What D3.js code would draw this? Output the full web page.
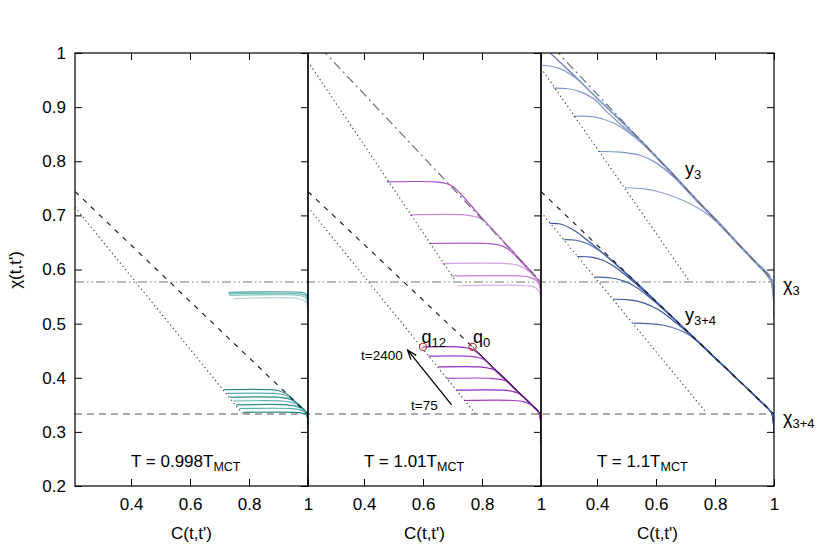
<!DOCTYPE html>
<html><head><meta charset="utf-8">
<script src="https://cdn.jsdelivr.net/npm/d3@7"></script>
<style>body{margin:0;background:#fff}svg{display:block}text{font-family:"Liberation Sans",Arial,Helvetica,sans-serif}</style>
</head><body><svg id="c" width="830" height="554"></svg>
<script>
// ---------- data ----------
const yTicks = [0.2,0.3,0.4,0.5,0.6,0.7,0.8,0.9,1];
const xTicks = [0.4,0.6,0.8,1];
const panelTitles = [["T = 0.998T","MCT"],["T = 1.01T","MCT"],["T = 1.1T","MCT"]];
const chi3 = 0.577, chi34 = 0.333;

// reference straight lines [C, chi]
const leftDashed = [[0.21,0.744],[1,0.333]];
const leftDotted = [[0.21,0.715],[0.777,0.334]];
const midDashDot = [[0.21,1.034],[1,0.577]];
const midDottedU = [[0.21,0.984],[0.705,0.583]];
const midDashed  = [[0.21,0.744],[0.768,0.457]];
const midSolid   = [[0.768,0.457],[1,0.333]];
const midDottedL = [[0.21,0.715],[0.777,0.334]];
const rightDashDot = [[0.21,1.034],[1,0.577]];
const rightDottedU = [[0.21,0.972],[0.71,0.581]];
const rightDashed  = [[0.21,0.744],[1,0.333]];
const rightDottedL = [[0.21,0.706],[0.768,0.337]];
const qPoints = [[0.600,0.457],[0.768,0.457]];
const arrowPts = [[0.697,0.350],[0.548,0.451]];

// curves, T = 0.998 T_MCT
const leftUpper = [
 [[0.730,0.558],[0.97,0.558],[0.99,0.556],[0.998,0.550],[1,0.540]],
 [[0.730,0.555],[0.97,0.555],[0.99,0.552],[0.998,0.545],[1,0.535]],
 [[0.733,0.552],[0.97,0.552],[0.99,0.548],[0.998,0.540],[1,0.530]],
 [[0.748,0.546],[0.97,0.546],[0.99,0.541],[0.998,0.533],[1,0.520]]
];
const leftLower = [
 [[0.716,0.378],[0.87,0.378],[0.90,0.376],[0.93,0.369],[0.96,0.354],[0.99,0.339],[0.999,0.325],[1,0.2]],
 [[0.726,0.371],[0.89,0.371],[0.915,0.369],[0.94,0.363],[0.97,0.349],[0.99,0.339],[0.999,0.325],[1,0.2]],
 [[0.736,0.364],[0.90,0.364],[0.93,0.362],[0.955,0.356],[0.975,0.346],[0.99,0.339],[0.999,0.325],[1,0.2]],
 [[0.746,0.357],[0.915,0.357],[0.94,0.355],[0.965,0.350],[0.985,0.341],[0.996,0.333],[1,0.2]],
 [[0.756,0.350],[0.93,0.350],[0.955,0.348],[0.975,0.344],[0.99,0.338],[0.998,0.330],[1,0.2]],
 [[0.767,0.343],[0.945,0.343],[0.97,0.341],[0.988,0.337],[0.998,0.330],[1,0.2]],
 [[0.780,0.336],[0.96,0.336],[0.985,0.334],[0.997,0.330],[1,0.2]]
];
// curves, T = 1.01 T_MCT
const midUpper = [
 [[0.477,0.762],[0.64,0.762],[0.67,0.760],[0.70,0.754],[0.80,0.695],[0.90,0.636],[0.95,0.606],[0.98,0.588],[0.995,0.575],[1,0.550]],
 [[0.556,0.701],[0.74,0.701],[0.775,0.698],[0.80,0.693],[0.90,0.635],[0.95,0.605],[0.98,0.587],[0.995,0.574],[1,0.548]],
 [[0.621,0.648],[0.82,0.648],[0.86,0.645],[0.89,0.637],[0.95,0.604],[0.98,0.586],[0.995,0.573],[1,0.546]],
 [[0.663,0.611],[0.88,0.611],[0.92,0.608],[0.95,0.600],[0.98,0.585],[0.995,0.572],[1,0.545]],
 [[0.695,0.588],[0.93,0.588],[0.96,0.586],[0.985,0.579],[0.997,0.568],[1,0.543]],
 [[0.716,0.570],[0.95,0.570],[0.98,0.567],[0.995,0.558],[1,0.540]]
];
const midLower = [
 [[0.600,0.457],[0.72,0.457],[0.75,0.455],[0.775,0.450],[0.85,0.411],[0.92,0.375],[0.97,0.349],[0.99,0.338],[0.998,0.325],[1,0.28]],
 [[0.618,0.440],[0.75,0.440],[0.78,0.438],[0.805,0.434],[0.85,0.411],[0.92,0.375],[0.97,0.349],[0.99,0.338],[0.998,0.325],[1,0.28]],
 [[0.652,0.420],[0.79,0.420],[0.82,0.418],[0.845,0.414],[0.92,0.375],[0.97,0.349],[0.99,0.338],[0.998,0.325],[1,0.28]],
 [[0.680,0.399],[0.83,0.399],[0.86,0.397],[0.885,0.393],[0.92,0.375],[0.97,0.349],[0.99,0.338],[0.998,0.325],[1,0.28]],
 [[0.714,0.377],[0.87,0.377],[0.90,0.375],[0.925,0.371],[0.97,0.349],[0.99,0.338],[0.998,0.325],[1,0.28]],
 [[0.739,0.358],[0.91,0.358],[0.94,0.356],[0.96,0.352],[0.98,0.343],[0.99,0.338],[0.998,0.325],[1,0.28]]
];
// curves, T = 1.1 T_MCT
const rightUpper = [
 [[0.235,1.003],[0.30,0.970],[0.40,0.917],[0.546,0.840],[0.65,0.781],[0.738,0.729],[0.806,0.691],[0.90,0.636],[0.95,0.608],[0.97,0.598],[0.985,0.589],[0.996,0.560],[1,0.510]],
 [[0.21,0.977],[0.24,0.976],[0.27,0.972],[0.32,0.957],[0.40,0.916],[0.546,0.839],[0.65,0.780],[0.738,0.728],[0.806,0.690],[0.90,0.635],[0.95,0.607],[0.97,0.597],[0.985,0.587],[0.996,0.562],[1,0.520]],
 [[0.252,0.935],[0.30,0.934],[0.34,0.929],[0.39,0.915],[0.43,0.893],[0.48,0.868],[0.546,0.837],[0.65,0.779],[0.738,0.727],[0.806,0.689],[0.90,0.634],[0.95,0.606],[0.97,0.596],[0.985,0.585],[0.996,0.565],[1,0.530]],
 [[0.320,0.883],[0.39,0.882],[0.45,0.872],[0.50,0.856],[0.55,0.834],[0.60,0.808],[0.65,0.779],[0.738,0.727],[0.806,0.689],[0.90,0.634],[0.95,0.606],[0.97,0.596],[0.985,0.584],[0.996,0.568],[1,0.540]],
 [[0.404,0.818],[0.48,0.817],[0.546,0.811],[0.60,0.797],[0.66,0.771],[0.72,0.737],[0.806,0.689],[0.90,0.634],[0.95,0.606],[0.97,0.595],[0.985,0.583],[0.996,0.571],[1,0.552]],
 [[0.495,0.751],[0.56,0.749],[0.60,0.745],[0.69,0.728],[0.77,0.704],[0.82,0.680],[0.90,0.634],[0.95,0.605],[0.97,0.594],[0.985,0.582],[0.996,0.574],[1,0.565]]
];
const rightLower = [
 [[0.240,0.685],[0.275,0.684],[0.32,0.673],[0.365,0.655],[0.433,0.624],[0.523,0.581],[0.60,0.541],[0.70,0.489],[0.80,0.437],[0.90,0.385],[0.95,0.359],[0.98,0.343],[0.993,0.334],[1,0.30]],
 [[0.286,0.655],[0.33,0.654],[0.37,0.647],[0.41,0.634],[0.46,0.612],[0.523,0.580],[0.60,0.541],[0.70,0.489],[0.80,0.437],[0.90,0.385],[0.95,0.359],[0.98,0.343],[0.993,0.334],[1,0.30]],
 [[0.333,0.624],[0.38,0.623],[0.42,0.617],[0.46,0.605],[0.50,0.588],[0.55,0.565],[0.60,0.540],[0.70,0.489],[0.80,0.437],[0.90,0.385],[0.95,0.359],[0.98,0.343],[0.993,0.334],[1,0.30]],
 [[0.393,0.586],[0.44,0.585],[0.49,0.579],[0.53,0.568],[0.57,0.552],[0.62,0.529],[0.70,0.489],[0.80,0.437],[0.90,0.385],[0.95,0.359],[0.98,0.343],[0.993,0.334],[1,0.30]],
 [[0.455,0.545],[0.51,0.544],[0.56,0.538],[0.61,0.525],[0.66,0.505],[0.70,0.487],[0.80,0.436],[0.90,0.385],[0.95,0.359],[0.98,0.343],[0.993,0.334],[1,0.30]],
 [[0.523,0.501],[0.625,0.497],[0.704,0.482],[0.749,0.464],[0.80,0.437],[0.90,0.385],[0.95,0.359],[0.98,0.343],[0.993,0.334],[1,0.30]]
];

const leftUpperColors  = ["#3f9e9e","#6fb8b8","#8cc8c8","#a9d6d6"];
const leftLowerColors  = ["#2e8e8e","#5aaeae","#2a8888","#62b2b2","#2e8e8e","#5aaeae","#2a8888"];
const midUpperColors   = ["#a848cc","#c98ade","#b35ad2","#d4a0e4","#c07ad8","#dab0e8"];
const midLowerColors   = ["#9428c0","#a23cc8","#9428c0","#a23cc8","#9428c0","#a23cc8"];
const rightUpperColors = ["#5c72b2","#8c9ed0","#7f93c8","#8c9ed0","#7f93c8","#8c9ed0"];
const rightLowerColors = ["#3a56a0","#4a64aa","#3a56a0","#4a64aa","#3a56a0","#4a64aa"];

// ---------- drawing ----------
const svg = d3.select("#c");
const W = 233, x0s = [75,308,541], yTop = 53, yBot = 486;
const FONT = "\"Liberation Sans\",Arial,Helvetica,sans-serif";
const y = d3.scaleLinear().domain([0.2,1]).range([yBot,yTop]);
const xs = x0s.map(a => d3.scaleLinear().domain([0.21,1]).range([a,a+W]));

const defs = svg.append("defs");
x0s.forEach((a,i)=>defs.append("clipPath").attr("id","cp"+i).append("rect")
  .attr("x",a).attr("y",yTop).attr("width",W).attr("height",yBot-yTop));

const fullX = d3.scaleLinear().domain([0,1]).range([x0s[0], x0s[2]+W]);
svg.append("line").attr("x1",fullX(0)).attr("x2",fullX(1)).attr("y1",y(chi3)).attr("y2",y(chi3))
  .attr("stroke","#777").attr("stroke-width",1.1).attr("stroke-dasharray","9,3,1.5,3,1.5,3");
svg.append("line").attr("x1",fullX(0)).attr("x2",fullX(1)).attr("y1",y(chi34)).attr("y2",y(chi34))
  .attr("stroke","#555").attr("stroke-width",1.1).attr("stroke-dasharray","7,5");

const styles = {
  dashed:{stroke:"#111",dash:"5,6",w:1.1},
  dotted:{stroke:"#333",dash:"1.2,3",w:1.1},
  dashdot:{stroke:"#666",dash:"9,4,2,4",w:1.1},
  solid:{stroke:"#111",dash:null,w:0.9}
};
const panels = [
  {curves:[[leftUpper,leftUpperColors],[leftLower,leftLowerColors]], lines:[[leftDashed,"dashed"],[leftDotted,"dotted"]]},
  {curves:[[midUpper,midUpperColors],[midLower,midLowerColors]], lines:[[midDashDot,"dashdot"],[midDottedU,"dotted"],[midDashed,"dashed"],[midSolid,"solid"],[midDottedL,"dotted"]]},
  {curves:[[rightUpper,rightUpperColors],[rightLower,rightLowerColors]], lines:[[rightDashDot,"dashdot"],[rightDottedU,"dotted"],[rightDashed,"dashed"],[rightDottedL,"dotted"]]}
];

panels.forEach((p,i)=>{
  const x = xs[i];
  const g = svg.append("g").attr("clip-path",`url(#cp${i})`);
  const line = d3.line().x(d=>x(d[0])).y(d=>y(d[1])).curve(d3.curveCatmullRom.alpha(0.5));
  p.curves.forEach(([set,cols])=>{
    set.forEach((c,k)=>g.append("path").attr("d",line(c)).attr("fill","none")
      .attr("stroke",cols[k%cols.length]).attr("stroke-width",1.2));
  });
  const sl = d3.line().x(d=>x(d[0])).y(d=>y(d[1]));
  p.lines.forEach(([pts,st])=>{
    const s = styles[st];
    const path = g.append("path").attr("d",sl(pts)).attr("fill","none").attr("stroke",s.stroke).attr("stroke-width",s.w);
    if(s.dash) path.attr("stroke-dasharray",s.dash);
  });

  const fmt = d => d===1 ? "1" : d.toFixed(1);
  const bx = svg.append("g").attr("transform",`translate(0,${yBot})`)
    .call(d3.axisBottom(x).tickValues(xTicks).tickSizeInner(-7).tickSizeOuter(0).tickPadding(12).tickFormat(fmt));
  const tx = svg.append("g").attr("transform",`translate(0,${yTop})`)
    .call(d3.axisTop(x).tickValues(xTicks).tickSizeInner(-7).tickSizeOuter(0).tickFormat(""));
  const ry = svg.append("g").attr("transform",`translate(${x0s[i]+W},0)`)
    .call(d3.axisRight(y).tickValues(yTicks).tickSizeInner(-7).tickSizeOuter(0).tickFormat(""));
  [bx,tx,ry].forEach(a=>a.select(".domain").remove());
  if(i===0){
    const ly = svg.append("g").attr("transform",`translate(${x0s[0]},0)`)
      .call(d3.axisLeft(y).tickValues(yTicks).tickSizeInner(-7).tickSizeOuter(0).tickPadding(9).tickFormat(fmt));
    ly.select(".domain").remove();
  }
  svg.append("rect").attr("x",x0s[i]).attr("y",yTop).attr("width",W).attr("height",yBot-yTop)
    .attr("fill","none").attr("stroke","#000").attr("stroke-width",1.2);

  svg.append("text").attr("x",x0s[i]+W/2).attr("y",539).attr("text-anchor","middle")
    .attr("font-size",17).text("C(t,t')");
  const t = svg.append("text").attr("x",x(0.4)).attr("y",467).attr("font-size",17);
  t.append("tspan").text(panelTitles[i][0]);
  t.append("tspan").attr("font-size",12.5).attr("dy",4).text(panelTitles[i][1]);
});
svg.selectAll(".tick line").attr("stroke","#000").attr("stroke-width",1);
svg.selectAll(".tick text").attr("font-size",17).attr("font-family",FONT).attr("fill","#000");

svg.append("text").attr("transform","translate(21,270) rotate(-90)").attr("text-anchor","middle")
  .attr("font-size",17).text("χ(t,t')");

const xm = xs[1];
const qLabels = [["q","12"],["q","0"]];
qPoints.forEach(q=>{
  svg.append("circle").attr("cx",xm(q[0])).attr("cy",y(q[1])).attr("r",3.6)
    .attr("fill","none").attr("stroke","#d42a20").attr("stroke-width",1.1);
});
function sub(xp,yp,main,s,fs,sfs){
  const t = svg.append("text").attr("x",xp).attr("y",yp).attr("font-size",fs);
  t.append("tspan").text(main);
  t.append("tspan").attr("font-size",sfs).attr("dy",4).text(s);
}
sub(421.5,343,qLabels[0][0],qLabels[0][1],18,13);
sub(473,343,qLabels[1][0],qLabels[1][1],18,13);
svg.append("text").attr("x",361).attr("y",360).attr("font-size",13.5).text("t=2400");
svg.append("text").attr("x",411).attr("y",410).attr("font-size",13.5).text("t=75");
const ax1 = xm(arrowPts[0][0]), ay1 = y(arrowPts[0][1]), ax2 = xm(arrowPts[1][0]), ay2 = y(arrowPts[1][1]);
svg.append("line").attr("x1",ax1).attr("y1",ay1).attr("x2",ax2).attr("y2",ay2).attr("stroke","#000").attr("stroke-width",1.3);
const ang = Math.atan2(ay2-ay1, ax2-ax1), hl = 10, ha = 0.35;
svg.append("path").attr("d",`M${ax2-hl*Math.cos(ang-ha)},${ay2-hl*Math.sin(ang-ha)}L${ax2},${ay2}L${ax2-hl*Math.cos(ang+ha)},${ay2-hl*Math.sin(ang+ha)}`)
  .attr("fill","none").attr("stroke","#000").attr("stroke-width",1.3);

sub(685,175,"y","3",18,13);
sub(685,321,"y","3+4",18,13);
sub(783,291,"χ","3",18,13);
sub(783,424,"χ","3+4",18,13);
</script></body></html>
